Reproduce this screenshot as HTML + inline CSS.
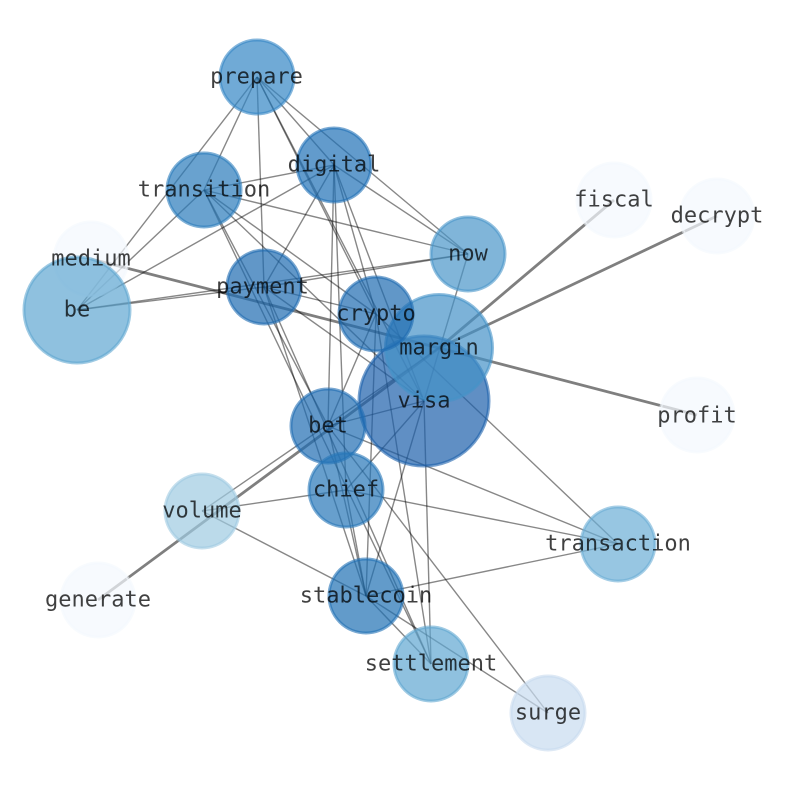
<!DOCTYPE html>
<html><head><meta charset="utf-8">
<style>
html,body{margin:0;padding:0;background:#fff}
svg{display:block}
.t line{stroke:#000;stroke-opacity:.47;stroke-width:1.4}
.k line{stroke:#000;stroke-opacity:.5;stroke-width:2.8}
circle{fill-opacity:.7;stroke-opacity:.6;stroke-width:3}
text{font-family:"DejaVu Sans Mono","Liberation Mono",monospace;font-size:22px;fill:#000;fill-opacity:.75;text-anchor:middle;dominant-baseline:central}
</style></head><body>
<svg width="794" height="790" viewBox="0 0 794 790" xmlns="http://www.w3.org/2000/svg">
<g class="k">
<line x1="439" y1="348" x2="614" y2="200"/>
<line x1="439" y1="348" x2="717" y2="216"/>
<line x1="439" y1="348" x2="697" y2="415"/>
<line x1="439" y1="348" x2="91" y2="259"/>
<line x1="439" y1="348" x2="98" y2="600"/>
</g>
<g class="t">
<!-- prepare -->
<line x1="257" y1="77" x2="77" y2="310"/>
<line x1="257" y1="77" x2="204" y2="190"/>
<line x1="257" y1="77" x2="264" y2="287"/>
<line x1="257" y1="77" x2="334" y2="165"/>
<line x1="257" y1="77" x2="376" y2="314"/>
<line x1="257" y1="77" x2="424" y2="401"/>
<line x1="257" y1="77" x2="468" y2="254"/>
<!-- digital -->
<line x1="334" y1="165" x2="204" y2="190"/>
<line x1="334" y1="165" x2="77" y2="310"/>
<line x1="334" y1="165" x2="264" y2="287"/>
<line x1="334" y1="165" x2="376" y2="314"/>
<line x1="334" y1="165" x2="424" y2="401"/>
<line x1="334" y1="165" x2="328" y2="426"/>
<line x1="334" y1="165" x2="346" y2="490"/>
<line x1="334" y1="165" x2="468" y2="254"/>
<!-- transition -->
<line x1="204" y1="190" x2="77" y2="310"/>
<line x1="204" y1="190" x2="468" y2="254"/>
<line x1="204" y1="190" x2="376" y2="314"/>
<line x1="204" y1="190" x2="424" y2="401"/>
<line x1="204" y1="190" x2="328" y2="426"/>
<line x1="204" y1="190" x2="431" y2="664"/>
<!-- payment -->
<line x1="264" y1="287" x2="77" y2="310"/>
<line x1="264" y1="287" x2="468" y2="254"/>
<line x1="77" y1="310" x2="468" y2="254"/>
<line x1="264" y1="287" x2="376" y2="314"/>
<line x1="264" y1="287" x2="424" y2="401"/>
<line x1="264" y1="287" x2="366" y2="596"/>
<line x1="264" y1="287" x2="431" y2="664"/>
<!-- now -->
<line x1="468" y1="254" x2="424" y2="401"/>
<!-- crypto -->
<line x1="376" y1="314" x2="328" y2="426"/>
<line x1="376" y1="314" x2="366" y2="596"/>
<line x1="376" y1="314" x2="431" y2="664"/>
<line x1="376" y1="314" x2="618" y2="544"/>
<!-- visa -->
<line x1="424" y1="401" x2="328" y2="426"/>
<line x1="424" y1="401" x2="346" y2="490"/>
<line x1="424" y1="401" x2="366" y2="596"/>
<line x1="424" y1="401" x2="431" y2="664"/>
<!-- bet -->
<line x1="328" y1="426" x2="618" y2="544"/>
<line x1="328" y1="426" x2="366" y2="596"/>
<line x1="328" y1="426" x2="548" y2="713"/>
<!-- chief -->
<line x1="346" y1="490" x2="202" y2="511"/>
<line x1="346" y1="490" x2="618" y2="544"/>
<line x1="346" y1="490" x2="366" y2="596"/>
<!-- volume -->
<line x1="202" y1="511" x2="439" y2="348"/>
<line x1="202" y1="511" x2="366" y2="596"/>
<!-- stablecoin -->
<line x1="366" y1="596" x2="618" y2="544"/>
<line x1="366" y1="596" x2="431" y2="664"/>
<line x1="366" y1="596" x2="548" y2="713"/>
</g>
<g>
<circle cx="424" cy="401" r="65" fill="#1c60ab" stroke="#1c60ab"/>
<circle cx="439" cy="348" r="53.5" fill="#4592c8" stroke="#4592c8"/>
<circle cx="257" cy="77" r="37" fill="#3386c4" stroke="#3386c4"/>
<circle cx="334" cy="165" r="37" fill="#2070b6" stroke="#2070b6"/>
<circle cx="204" cy="190" r="37" fill="#2a7bbb" stroke="#2a7bbb"/>
<circle cx="614" cy="200" r="37" fill="#f3f8fe" stroke="#f3f8fe"/>
<circle cx="717" cy="216" r="37" fill="#f3f8fe" stroke="#f3f8fe"/>
<circle cx="468" cy="254" r="37" fill="#4a96c9" stroke="#4a96c9"/>
<circle cx="91" cy="259" r="37" fill="#f3f8fe" stroke="#f3f8fe"/>
<circle cx="264" cy="287" r="37" fill="#1e6bb1" stroke="#1e6bb1"/>
<circle cx="77" cy="310" r="53" fill="#5fa6d1" stroke="#5fa6d1"/>
<circle cx="376" cy="314" r="37" fill="#1e6bb1" stroke="#1e6bb1"/>
<circle cx="328" cy="426" r="37" fill="#1f6cb2" stroke="#1f6cb2"/>
<circle cx="346" cy="490" r="37" fill="#2676b8" stroke="#2676b8"/>
<circle cx="697" cy="415" r="37" fill="#f3f8fe" stroke="#f3f8fe"/>
<circle cx="202" cy="511" r="37" fill="#9ecae1" stroke="#9ecae1"/>
<circle cx="618" cy="544" r="37" fill="#6baed6" stroke="#6baed6"/>
<circle cx="366" cy="596" r="37" fill="#2070b4" stroke="#2070b4"/>
<circle cx="98" cy="600" r="37" fill="#f3f8fe" stroke="#f3f8fe"/>
<circle cx="431" cy="664" r="37" fill="#5fa6d1" stroke="#5fa6d1"/>
<circle cx="548" cy="713" r="37" fill="#c8dbef" stroke="#c8dbef"/>
</g>
<g>
<text x="256.5" y="77">prepare</text>
<text x="334" y="165">digital</text>
<text x="204" y="190">transition</text>
<text x="614" y="200">fiscal</text>
<text x="717" y="216">decrypt</text>
<text x="468" y="254">now</text>
<text x="91" y="259">medium</text>
<text x="262.5" y="287">payment</text>
<text x="77" y="310">be</text>
<text x="376" y="314">crypto</text>
<text x="439" y="348">margin</text>
<text x="424" y="401">visa</text>
<text x="697" y="416">profit</text>
<text x="328" y="426">bet</text>
<text x="346" y="490">chief</text>
<text x="202" y="511">volume</text>
<text x="618" y="544">transaction</text>
<text x="366" y="596">stablecoin</text>
<text x="98" y="600">generate</text>
<text x="431" y="664">settlement</text>
<text x="548" y="713">surge</text>
</g>
</svg>
</body></html>
